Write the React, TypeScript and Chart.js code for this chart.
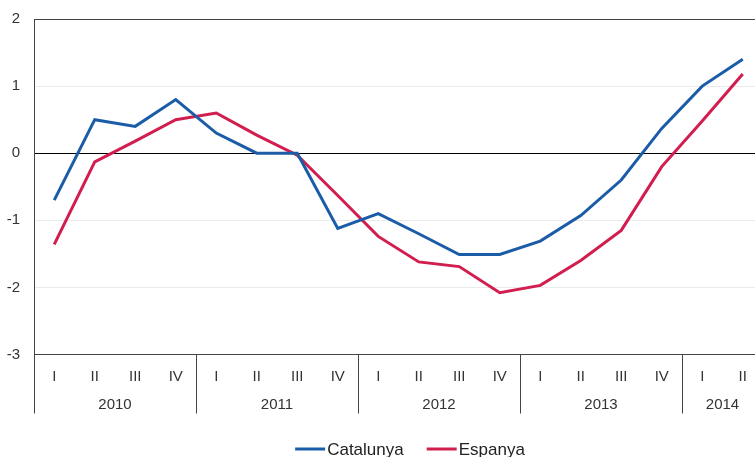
import { useEffect, useRef } from "react";
import { Chart, registerables } from "chart.js";

Chart.register(...registerables);

const quarters = ["I", "II", "III", "IV", "I", "II", "III", "IV", "I", "II", "III", "IV", "I", "II", "III", "IV", "I", "II"];
const years = ["2010", "2011", "2012", "2013", "2014"];
const yearStarts = [0, 4, 8, 12, 16];
const catalunya = [-0.7, 0.5, 0.4, 0.8, 0.3, 0.0, 0.0, -1.12, -0.9, -1.2, -1.51, -1.51, -1.31, -0.93, -0.4, 0.37, 1.0, 1.4];
const espanya = [-1.36, -0.13, 0.18, 0.5, 0.6, 0.27, -0.03, -0.63, -1.24, -1.62, -1.69, -2.08, -1.97, -1.6, -1.15, -0.2, 0.48, 1.18];

const BLUE = "#1a5ca8";
const RED = "#d21d4f";
const FONT = "'Liberation Sans', Arial, sans-serif";

const extras = {
  id: "extras",
  afterDraw(chart: any) {
    const ctx = chart.ctx;
    const x = chart.scales.x;
    const area = chart.chartArea;
    const n = quarters.length;
    const half = (x.getPixelForValue(1) - x.getPixelForValue(0)) / 2;
    ctx.save();
    // year separators
    ctx.strokeStyle = "#444";
    ctx.lineWidth = 1;
    yearStarts.forEach((s) => {
      const px = Math.round(x.getPixelForValue(s) - half) + 0.5;
      ctx.beginPath();
      ctx.moveTo(px, area.bottom);
      ctx.lineTo(px, area.bottom + 59);
      ctx.stroke();
    });
    // year labels
    ctx.fillStyle = "#333";
    ctx.font = `15px ${FONT}`;
    ctx.textAlign = "center";
    ctx.textBaseline = "middle";
    years.forEach((yr, i) => {
      const s = yearStarts[i];
      const e = i + 1 < yearStarts.length ? yearStarts[i + 1] - 1 : n - 1;
      const cx = (x.getPixelForValue(s) + x.getPixelForValue(e)) / 2;
      ctx.fillText(yr, cx, area.bottom + 50);
    });
    // legend
    ctx.font = `17px ${FONT}`;
    ctx.textAlign = "left";
    ctx.textBaseline = "alphabetic";
    const items = chart.data.datasets.map((d: any) => ({ label: d.label, color: d.borderColor }));
    const sw = 30, gapText = 2, gapItem = 23;
    const widths = items.map((it: any) => sw + gapText + ctx.measureText(it.label).width);
    const total = widths.reduce((a: number, b: number) => a + b, 0) + gapItem * (items.length - 1);
    let lx = 410 - total / 2;
    const ly = 449;
    items.forEach((it: any, i: number) => {
      ctx.strokeStyle = it.color;
      ctx.lineWidth = 3;
      ctx.beginPath();
      ctx.moveTo(lx, ly);
      ctx.lineTo(lx + sw, ly);
      ctx.stroke();
      ctx.fillStyle = "#222";
      ctx.fillText(it.label, lx + sw + gapText, ly + 6);
      lx += widths[i] + gapItem;
    });
    ctx.restore();
  },
};

export default function App() {
  const ref = useRef<HTMLCanvasElement>(null);
  useEffect(() => {
    if (!ref.current) return;
    const chart = new Chart(ref.current, {
      type: "line",
      data: {
        labels: quarters,
        datasets: [
          { label: "Catalunya", data: catalunya, borderColor: BLUE, backgroundColor: BLUE, borderWidth: 3, pointRadius: 0, tension: 0 },
          { label: "Espanya", data: espanya, borderColor: RED, backgroundColor: RED, borderWidth: 3, pointRadius: 0, tension: 0 },
        ],
      },
      options: {
        responsive: false,
        animation: false,
        layout: { padding: { top: 19, left: 0, right: 0, bottom: 0 } },
        plugins: { legend: { display: false }, tooltip: { enabled: false } },
        scales: {
          x: {
            offset: true,
            grid: { display: false, drawTicks: false },
            border: { display: true, color: "#444", width: 1 },
            ticks: { color: "#333", font: { family: FONT, size: 15 }, padding: 13, maxRotation: 0, autoSkip: false },
            afterFit: (s: any) => { s.height = 102.5; },
          },
          y: {
            min: -3,
            max: 2,
            ticks: { stepSize: 1, color: "#333", font: { family: FONT, size: 15 }, padding: 14 },
            grid: {
              drawTicks: false,
              color: (c: any) => (c.tick && c.tick.value === 0 ? "#000" : c.tick && c.tick.value === 2 ? "#444" : "#ebebeb"),
              lineWidth: 1,
            },
            border: { display: true, color: "#444", width: 1 },
            afterFit: (s: any) => { s.width = 34; s.paddingTop = 0; },
          },
        },
      },
      plugins: [extras],
    });
    return () => chart.destroy();
  }, []);
  return (
    <div style={{ position: "fixed", left: 0, top: 0, width: 755, height: 457, overflow: "hidden", background: "#fff" }}>
      <canvas ref={ref} width={763} height={457} style={{ display: "block" }} />
    </div>
  );
}
